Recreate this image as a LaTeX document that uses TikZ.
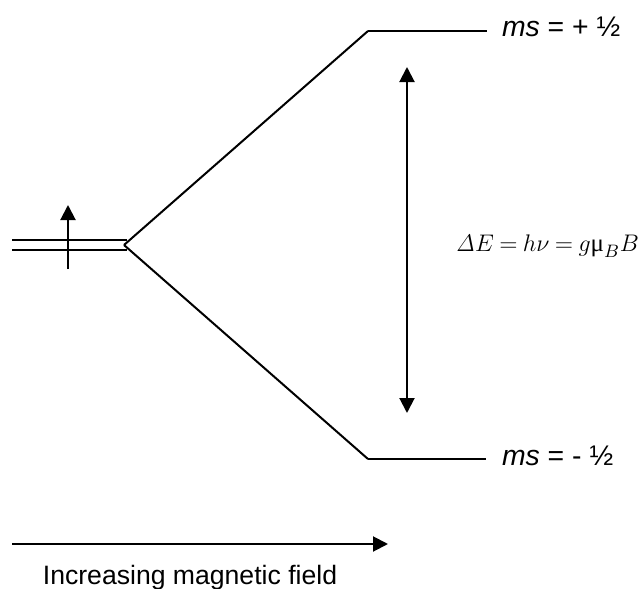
\documentclass[tikz,border=0pt]{standalone}
\usepackage[no-math]{fontspec}
\setmainfont{Liberation Sans}
\newfontfamily\greekserif{Liberation Serif}
\usetikzlibrary{arrows.meta}

\begin{document}
\begin{tikzpicture}[x=0.5pt, y=-0.5pt,
				line width=1pt,
				every node/.style={inner sep=0pt, font=\fontsize{13.3}{16}\selectfont},
				tip/.style={-{Triangle[length=7.5pt, width=7.5pt]}},
				dbltip/.style={{Triangle[length=7.5pt, width=7.5pt]}-{Triangle[length=7.5pt, width=7.5pt]}},
				level/.style={line width=1.3pt},
				levellab/.style={anchor=base west, font=\fontsize{14.2}{17}\selectfont}
				]
				\useasboundingbox (0,0) rectangle (644,589);
				% unsplit level
				\coordinate (start1) at (12,240);
				\coordinate (end1) at (127,240);
				\coordinate (start2) at (12,250);
				\coordinate (end2) at (127,250);
				\coordinate (vtx) at (124,245);
				\draw[level] (start1) -- (end1);
				\draw[level] (start2) -- (end2);
				\coordinate (spinlo) at (68,269);
				\coordinate (spinhi) at (68,205);
				\draw[tip] (spinlo) -- (spinhi);
				% split levels
				\coordinate (upL) at (368,31);
				\coordinate (upR) at (487,31);
				\coordinate (loL) at (368,459);
				\coordinate (loR) at (486,459);
				\draw (vtx) -- (upL);
				\draw (vtx) -- (loL);
				\draw[level] (upL) -- (upR);
				\draw[level] (loL) -- (loR);
				\node[levellab] (uplab) at (501,37) {\textit{ms} = + ½};
				\node[levellab] (lolab) at (501,465) {\textit{ms} = - ½};
				% energy gap
				\coordinate (gaptop) at (407,67);
				\coordinate (gapbot) at (407,413);
				\draw[dbltip] (gaptop) -- (gapbot);
				\node[anchor=base east, font=\fontsize{12.5}{15}\selectfont] (gap) at (640,251)
					{$\thickmuskip=4mu \mathit{\Delta} E = h\nu = g\mbox{\greekserif μ}_B B$};
				% field axis
				\coordinate (fieldL) at (12,544);
				\coordinate (fieldR) at (388,544);
				\draw[tip] (fieldL) -- (fieldR);
				\node[anchor=base] (field) at (190,584) {Increasing magnetic field};
			\end{tikzpicture}
\end{document}
